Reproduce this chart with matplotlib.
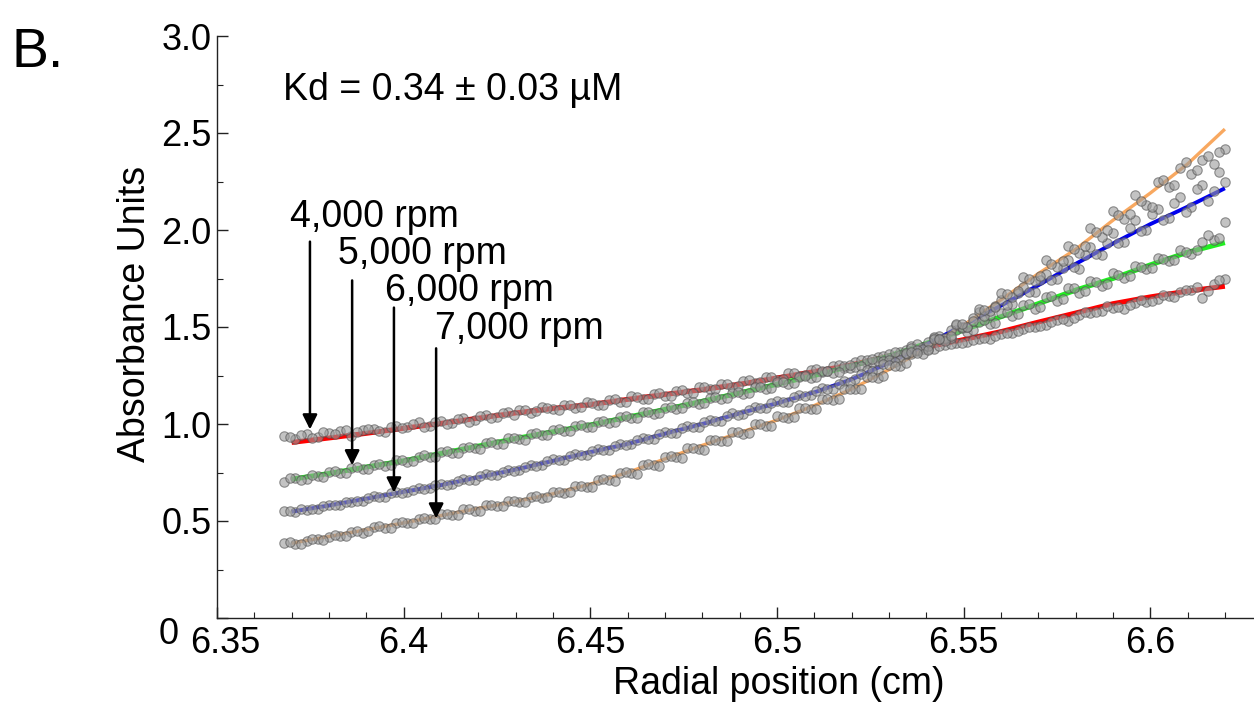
import matplotlib
matplotlib.use("Agg")
import matplotlib.pyplot as plt
import matplotlib.ticker as ticker
from matplotlib.transforms import ScaledTranslation

plt.rcParams["font.family"] = ["Liberation Sans", "DejaVu Sans"]

# ---- data ----
# radial positions of the scan points (cm), two interleaved scans
radius = [6.368, 6.371, 6.374, 6.377, 6.380, 6.383, 6.386, 6.389, 6.392, 6.395,
          6.398, 6.401, 6.404, 6.407, 6.410, 6.413, 6.416, 6.419, 6.422, 6.425,
          6.428, 6.431, 6.434, 6.437, 6.440, 6.443, 6.446, 6.449, 6.452, 6.455,
          6.458, 6.461, 6.464, 6.467, 6.470, 6.473, 6.476, 6.479, 6.482, 6.485,
          6.488, 6.491, 6.494, 6.497, 6.500, 6.503, 6.506, 6.509, 6.512, 6.515,
          6.518, 6.521, 6.524, 6.527, 6.530, 6.533, 6.536, 6.539, 6.542, 6.545,
          6.548, 6.551, 6.554, 6.557, 6.560, 6.563, 6.566, 6.569, 6.572, 6.575,
          6.578, 6.581, 6.584, 6.587, 6.590, 6.593, 6.596, 6.599, 6.602, 6.605,
          6.608, 6.611, 6.614, 6.617, 6.620]
radius_b = [6.3695, 6.3725, 6.3755, 6.3785, 6.3815, 6.3845, 6.3875, 6.3905, 6.3935, 6.3965,
            6.3995, 6.4025, 6.4055, 6.4085, 6.4115, 6.4145, 6.4175, 6.4205, 6.4235, 6.4265,
            6.4295, 6.4325, 6.4355, 6.4385, 6.4415, 6.4445, 6.4475, 6.4505, 6.4535, 6.4565,
            6.4595, 6.4625, 6.4655, 6.4685, 6.4715, 6.4745, 6.4775, 6.4805, 6.4835, 6.4865,
            6.4895, 6.4925, 6.4955, 6.4985, 6.5015, 6.5045, 6.5075, 6.5105, 6.5135, 6.5165,
            6.5195, 6.5225, 6.5255, 6.5285, 6.5315, 6.5345, 6.5375, 6.5405, 6.5435, 6.5465,
            6.5495, 6.5525, 6.5555, 6.5585, 6.5615, 6.5645, 6.5675, 6.5705, 6.5735, 6.5765,
            6.5795, 6.5825, 6.5855, 6.5885, 6.5915, 6.5945, 6.5975, 6.6005, 6.6035, 6.6065,
            6.6095, 6.6125, 6.6155, 6.6185]

abs_4000 = [0.940, 0.925, 0.948, 0.932, 0.955, 0.962, 0.940, 0.968, 0.975, 0.958,
            0.990, 0.985, 1.008, 0.990, 1.018, 1.004, 1.032, 1.020, 1.048, 1.036,
            1.060, 1.072, 1.058, 1.088, 1.076, 1.098, 1.085, 1.112, 1.098, 1.126,
            1.115, 1.142, 1.130, 1.156, 1.146, 1.172, 1.160, 1.190, 1.178, 1.204,
            1.192, 1.222, 1.210, 1.240, 1.228, 1.262, 1.250, 1.280, 1.268, 1.300,
            1.290, 1.322, 1.312, 1.345, 1.338, 1.372, 1.362, 1.398, 1.388, 1.405,
            1.415, 1.425, 1.440, 1.438, 1.462, 1.470, 1.488, 1.498, 1.512, 1.535,
            1.530, 1.562, 1.570, 1.585, 1.600, 1.592, 1.625, 1.630, 1.645, 1.662,
            1.682, 1.692, 1.650, 1.722, 1.745]
abs_4000_b = [0.935, 0.945, 0.930, 0.958, 0.950, 0.968, 0.960, 0.975, 0.965, 0.985,
              0.980, 0.998, 0.985, 1.012, 1.000, 1.025, 1.012, 1.040, 1.030, 1.058,
              1.045, 1.072, 1.065, 1.085, 1.072, 1.100, 1.088, 1.108, 1.100, 1.130,
              1.112, 1.140, 1.128, 1.160, 1.145, 1.175, 1.162, 1.192, 1.178, 1.205,
              1.195, 1.225, 1.215, 1.242, 1.230, 1.262, 1.255, 1.282, 1.275, 1.305,
              1.290, 1.330, 1.320, 1.350, 1.345, 1.380, 1.375, 1.385, 1.402, 1.410,
              1.420, 1.435, 1.445, 1.455, 1.470, 1.478, 1.500, 1.505, 1.525, 1.540,
              1.548, 1.575, 1.575, 1.610, 1.602, 1.615, 1.640, 1.635, 1.665, 1.655,
              1.690, 1.705, 1.688, 1.740]

abs_5000 = [0.700, 0.722, 0.718, 0.730, 0.752, 0.748, 0.772, 0.768, 0.790, 0.786,
            0.812, 0.806, 0.832, 0.828, 0.856, 0.852, 0.878, 0.875, 0.902, 0.898,
            0.926, 0.922, 0.948, 0.942, 0.968, 0.962, 0.990, 0.984, 1.012, 1.006,
            1.036, 1.030, 1.060, 1.054, 1.085, 1.078, 1.110, 1.104, 1.136, 1.130,
            1.162, 1.156, 1.190, 1.180, 1.215, 1.208, 1.242, 1.236, 1.272, 1.264,
            1.300, 1.295, 1.332, 1.325, 1.362, 1.358, 1.400, 1.395, 1.442, 1.438,
            1.485, 1.475, 1.528, 1.515, 1.570, 1.555, 1.612, 1.592, 1.655, 1.632,
            1.700, 1.675, 1.738, 1.712, 1.778, 1.755, 1.815, 1.798, 1.858, 1.842,
            1.895, 1.878, 1.940, 1.950, 2.040]
abs_5000_b = [0.722, 0.712, 0.738, 0.728, 0.758, 0.746, 0.778, 0.766, 0.795, 0.788,
              0.816, 0.808, 0.838, 0.830, 0.860, 0.850, 0.882, 0.872, 0.906, 0.898,
              0.930, 0.920, 0.952, 0.944, 0.972, 0.965, 0.995, 0.986, 1.016, 1.010,
              1.040, 1.032, 1.064, 1.056, 1.088, 1.080, 1.112, 1.106, 1.140, 1.132,
              1.166, 1.158, 1.192, 1.186, 1.219, 1.210, 1.245, 1.240, 1.275, 1.268,
              1.305, 1.298, 1.335, 1.326, 1.372, 1.362, 1.410, 1.400, 1.452, 1.442,
              1.495, 1.484, 1.535, 1.522, 1.578, 1.565, 1.618, 1.604, 1.660, 1.646,
              1.700, 1.684, 1.730, 1.722, 1.770, 1.764, 1.808, 1.805, 1.850, 1.845,
              1.885, 1.895, 1.975, 1.960]

abs_6000 = [0.550, 0.545, 0.558, 0.562, 0.585, 0.580, 0.598, 0.605, 0.628, 0.625,
            0.648, 0.650, 0.670, 0.668, 0.690, 0.692, 0.716, 0.712, 0.740, 0.738,
            0.764, 0.762, 0.790, 0.788, 0.818, 0.815, 0.845, 0.842, 0.872, 0.868,
            0.898, 0.895, 0.928, 0.925, 0.960, 0.955, 0.990, 0.986, 1.022, 1.018,
            1.055, 1.050, 1.088, 1.082, 1.118, 1.115, 1.152, 1.148, 1.186, 1.182,
            1.220, 1.230, 1.278, 1.280, 1.330, 1.332, 1.390, 1.388, 1.450, 1.445,
            1.512, 1.500, 1.575, 1.560, 1.640, 1.620, 1.705, 1.680, 1.772, 1.745,
            1.845, 1.800, 1.910, 1.870, 1.985, 1.940, 2.050, 2.000, 2.110, 2.060,
            2.170, 2.120, 2.230, 2.200, 2.245]
abs_6000_b = [0.552, 0.560, 0.562, 0.578, 0.582, 0.598, 0.602, 0.620, 0.624, 0.642,
              0.645, 0.662, 0.666, 0.684, 0.688, 0.706, 0.712, 0.730, 0.736, 0.755,
              0.760, 0.780, 0.786, 0.808, 0.812, 0.835, 0.840, 0.862, 0.866, 0.888,
              0.892, 0.915, 0.922, 0.948, 0.954, 0.978, 0.984, 1.010, 1.016, 1.042,
              1.048, 1.074, 1.080, 1.106, 1.112, 1.140, 1.146, 1.172, 1.178, 1.206,
              1.215, 1.258, 1.272, 1.310, 1.322, 1.365, 1.380, 1.425, 1.438, 1.482,
              1.498, 1.548, 1.558, 1.610, 1.615, 1.675, 1.680, 1.740, 1.742, 1.805,
              1.810, 1.870, 1.875, 1.935, 1.935, 2.010, 1.995, 2.080, 2.050, 2.140,
              2.095, 2.210, 2.150, 2.300]

abs_7000 = [0.385, 0.380, 0.395, 0.405, 0.418, 0.425, 0.445, 0.440, 0.468, 0.465,
            0.490, 0.488, 0.512, 0.508, 0.535, 0.530, 0.560, 0.552, 0.580, 0.576,
            0.602, 0.596, 0.625, 0.620, 0.650, 0.645, 0.680, 0.676, 0.712, 0.710,
            0.748, 0.750, 0.790, 0.788, 0.832, 0.830, 0.875, 0.872, 0.915, 0.912,
            0.958, 0.950, 0.998, 0.990, 1.040, 1.030, 1.085, 1.075, 1.130, 1.125,
            1.182, 1.178, 1.240, 1.235, 1.302, 1.298, 1.370, 1.360, 1.440, 1.430,
            1.515, 1.500, 1.595, 1.580, 1.675, 1.655, 1.760, 1.735, 1.845, 1.810,
            1.920, 1.880, 2.010, 1.965, 2.100, 2.055, 2.180, 2.130, 2.250, 2.220,
            2.320, 2.290, 2.360, 2.340, 2.420]
abs_7000_b = [0.390, 0.384, 0.408, 0.402, 0.430, 0.422, 0.450, 0.446, 0.472, 0.466,
              0.494, 0.488, 0.515, 0.510, 0.538, 0.532, 0.560, 0.554, 0.582, 0.578,
              0.604, 0.598, 0.628, 0.622, 0.652, 0.648, 0.682, 0.676, 0.715, 0.708,
              0.752, 0.744, 0.792, 0.784, 0.835, 0.826, 0.878, 0.868, 0.918, 0.910,
              0.958, 0.952, 1.000, 0.992, 1.038, 1.034, 1.082, 1.078, 1.130, 1.128,
              1.180, 1.182, 1.240, 1.245, 1.300, 1.315, 1.368, 1.380, 1.440, 1.455,
              1.515, 1.530, 1.590, 1.605, 1.668, 1.685, 1.748, 1.765, 1.825, 1.840,
              1.900, 1.915, 1.990, 2.000, 2.075, 2.080, 2.150, 2.120, 2.260, 2.230,
              2.350, 2.310, 2.380, 2.400]

# fitted curves
fit_radius = [6.37, 6.38, 6.39, 6.40, 6.41, 6.42, 6.43, 6.44, 6.45, 6.46, 6.47, 6.48, 6.49,
              6.50, 6.51, 6.52, 6.53, 6.54, 6.55, 6.56, 6.57, 6.58, 6.59, 6.60, 6.61, 6.62]
fit_4000 = [0.905, 0.928, 0.952, 0.978, 1.003, 1.030, 1.057, 1.080, 1.100, 1.127, 1.152, 1.177, 1.205,
            1.237, 1.270, 1.305, 1.350, 1.395, 1.435, 1.476, 1.525, 1.572, 1.620, 1.655, 1.685, 1.710]
fit_5000 = [0.715, 0.745, 0.778, 0.810, 0.848, 0.886, 0.925, 0.960, 0.995, 1.035, 1.075, 1.117, 1.160,
            1.205, 1.250, 1.300, 1.350, 1.415, 1.485, 1.553, 1.620, 1.690, 1.750, 1.820, 1.885, 1.935]
fit_6000 = [0.548, 0.580, 0.615, 0.650, 0.685, 0.725, 0.765, 0.810, 0.855, 0.897, 0.950, 1.000, 1.055,
            1.107, 1.163, 1.230, 1.315, 1.410, 1.510, 1.610, 1.715, 1.825, 1.930, 2.030, 2.120, 2.215]
fit_7000 = [0.385, 0.420, 0.455, 0.490, 0.528, 0.565, 0.600, 0.640, 0.690, 0.750, 0.820, 0.890, 0.955,
            1.020, 1.095, 1.180, 1.280, 1.390, 1.510, 1.640, 1.775, 1.900, 2.050, 2.190, 2.340, 2.520]

speeds = ["4,000 rpm", "5,000 rpm", "6,000 rpm", "7,000 rpm"]
kd_text = "Kd = 0.34 \u00b1 0.03 \u00b5M"

# ---- figure ----
fig = plt.figure(figsize=(12.54, 7.15), dpi=100)
ax = fig.add_axes([217 / 1254, 97 / 715, 1037 / 1254, 582 / 715])

fits = [(fit_4000, "#ff0000", 3.6), (fit_5000, "#22ee22", 3.6),
        (fit_6000, "#0000ee", 2.8), (fit_7000, "#f8a860", 2.4)]
for fy, col, lw in fits:
    ax.plot(fit_radius, fy, color=col, lw=lw, solid_capstyle="butt", zorder=2)

scans = [(radius, abs_4000), (radius_b, abs_4000_b),
         (radius, abs_5000), (radius_b, abs_5000_b),
         (radius, abs_6000), (radius_b, abs_6000_b),
         (radius, abs_7000), (radius_b, abs_7000_b)]
for xs, ys in scans:
    ax.scatter(xs, ys, s=46, facecolor="#9c9c9c", edgecolor="#505050",
               linewidths=0.8, alpha=0.6, zorder=3)

# arrows to each curve
arrow_x = [6.3749, 6.3862, 6.3974, 6.4087]
arrow_top = [1.94, 1.74, 1.60, 1.39]
arrow_tip = [0.972, 0.787, 0.647, 0.513]
label_pos = [(6.3696, 2.015), (6.3824, 1.825), (6.3950, 1.632), (6.4084, 1.436)]
for lab, xa, yt, yb, (lx, ly) in zip(speeds, arrow_x, arrow_top, arrow_tip, label_pos):
    ax.annotate("", xy=(xa, yb), xytext=(xa, yt),
                arrowprops=dict(arrowstyle="-|>", color="black", lw=1.8,
                                mutation_scale=22, shrinkA=0, shrinkB=0), zorder=5)
    ax.text(lx, ly, lab, fontsize=27, ha="left", va="baseline", zorder=6)

ax.text(0.064, 0.89, kd_text, transform=ax.transAxes, fontsize=27,
        ha="left", va="baseline")
fig.text(11 / 1254, 1 - 67 / 715, "B.", fontsize=40, ha="left", va="baseline")

# axes styling
ax.set_xlim(6.35, 6.6278)
ax.set_ylim(0, 3.0)
ax.spines["top"].set_visible(False)
ax.spines["right"].set_visible(False)
for s in ("left", "bottom"):
    ax.spines[s].set_linewidth(1.0)
    ax.spines[s].set_color("#222222")

ax.xaxis.set_major_locator(ticker.MultipleLocator(0.05))
ax.xaxis.set_minor_locator(ticker.MultipleLocator(0.01))
ax.yaxis.set_major_locator(ticker.MultipleLocator(0.5))
ax.yaxis.set_minor_locator(ticker.MultipleLocator(0.25))
ax.xaxis.set_major_formatter(ticker.FuncFormatter(lambda v, p: f"{v:.2f}".rstrip("0")))
ax.yaxis.set_major_formatter(ticker.FuncFormatter(lambda v, p: "0" if v == 0 else f"{v:.1f}"))

ax.tick_params(which="major", direction="in", length=8, width=1, color="#222222",
               labelsize=26)
ax.tick_params(which="minor", direction="in", length=4.5, width=0.8, color="#222222")
ax.tick_params(axis="x", which="major", pad=6)
ax.tick_params(axis="y", which="major", pad=4)

ax.set_xlabel("Radial position (cm)", fontsize=27)
ax.set_ylabel("Absorbance Units", fontsize=27)
ax.xaxis.set_label_coords(0.542, -0.082)
ax.yaxis.set_label_coords(-0.062, 0.522)

fig.canvas.draw()
# the origin labels sit apart in the reference
for lab in ax.get_yticklabels():
    if lab.get_text() == "0":
        lab.set_transform(lab.get_transform() + ScaledTranslation(-0.33, -0.12, fig.dpi_scale_trans))
for lab in ax.get_xticklabels():
    if lab.get_text() == "6.35":
        lab.set_transform(lab.get_transform() + ScaledTranslation(0.08, 0, fig.dpi_scale_trans))

fig.savefig("out.png", dpi=100)
